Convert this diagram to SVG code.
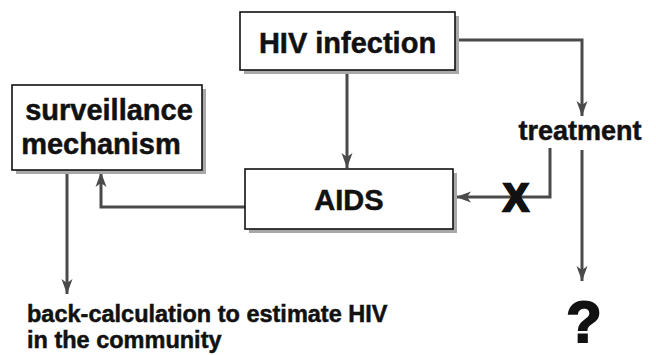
<svg xmlns="http://www.w3.org/2000/svg" width="656" height="355" viewBox="0 0 656 355">
<style>
.box{fill:#fff;stroke:#111;stroke-width:1.6}
.shadow{fill:#a8a8a8}
.lbl{font-family:"Liberation Sans",Arial,Helvetica,sans-serif;font-weight:bold;fill:#111;stroke:#111;stroke-width:0.5}
.big{font-size:29px;text-anchor:middle}
.conn{fill:none;stroke:#4a4a4a;stroke-width:3}
</style>
<defs>
<marker id="ah" markerUnits="userSpaceOnUse" markerWidth="16" markerHeight="12" refX="15" refY="6" orient="auto">
<path d="M0,0.5 L15,6 L0,11.5 L4,6 Z" fill="#4a4a4a"/>
</marker>
</defs>
<rect width="656" height="355" fill="#fff"/>
<g id="connectors">
<path class="conn" d="M347,70 V168" marker-end="url(#ah)"/>
<path class="conn" d="M455,40 H582 V116" marker-end="url(#ah)"/>
<path class="conn" d="M550,148 V197 H456" marker-end="url(#ah)"/>
<path class="conn" d="M582,150 V281" marker-end="url(#ah)"/>
<path class="conn" d="M245,207 H101 V172" marker-end="url(#ah)"/>
<path class="conn" d="M67,170 V294" marker-end="url(#ah)"/>
<text class="lbl" x="516" y="211" font-size="38" text-anchor="middle" style="stroke-width:2.5">X</text>
</g>
<g id="hiv">
<rect class="shadow" x="244" y="16" width="215" height="58"/>
<rect class="box" x="240" y="12" width="215" height="58"/>
<text class="lbl big" x="347.5" y="53">HIV infection</text>
</g>
<g id="aids">
<rect class="shadow" x="249" y="173" width="208" height="60"/>
<rect class="box" x="245" y="169" width="208" height="60"/>
<text class="lbl big" x="349" y="210">AIDS</text>
</g>
<g id="surveillance">
<rect class="shadow" x="16" y="89" width="190" height="85"/>
<rect class="box" x="12" y="85" width="190" height="85"/>
<text class="lbl big" x="109" y="120">surveillance</text>
<text class="lbl big" x="101" y="154">mechanism</text>
</g>
<g id="treatment">
<text class="lbl" x="580" y="140" font-size="27" text-anchor="middle">treatment</text>
</g>
<g id="unknown">
<text class="lbl" x="584" y="342" font-size="58" text-anchor="middle" style="stroke-width:2">?</text>
</g>
<g id="backcalc">
<text class="lbl" x="27" y="322" font-size="23.5">back-calculation to estimate HIV</text>
<text class="lbl" x="27" y="348" font-size="23.5">in the community</text>
</g>
</svg>
